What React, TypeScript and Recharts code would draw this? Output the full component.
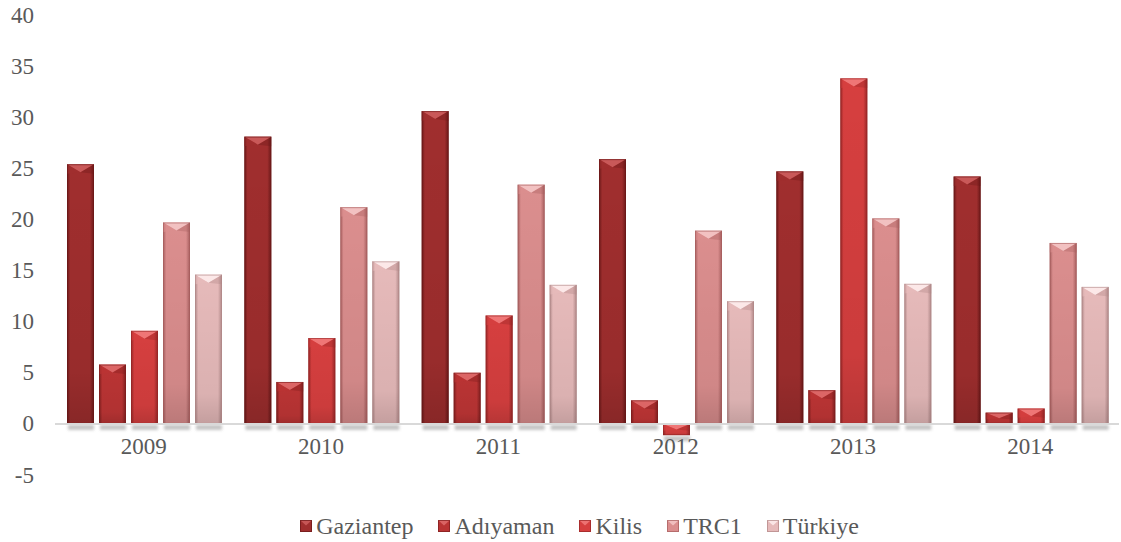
import React from "react";
import { BarChart, Bar, XAxis, YAxis, ReferenceLine } from "recharts";

const years = ["2009", "2010", "2011", "2012", "2013", "2014"];
const gaziantep = [25.4, 28.1, 30.6, 25.9, 24.7, 24.2];
const adiyaman = [5.8, 4.1, 5.0, 2.3, 3.3, 1.1];
const kilis = [9.1, 8.4, 10.6, -1.1, 33.8, 1.5];
const trc1 = [19.7, 21.2, 23.4, 18.9, 20.1, 17.7];
const turkiye = [14.6, 15.9, 13.6, 12.0, 13.7, 13.4];
const yTicks = [-5, 0, 5, 10, 15, 20, 25, 30, 35, 40];

const seriesDefs = [
  { key: "Gaziantep", values: gaziantep, mid: "#A02E2E", edge: "#6A1818", hi: "#D06060" },
  { key: "Adıyaman", values: adiyaman, mid: "#BA3434", edge: "#7E1E1E", hi: "#E27070" },
  { key: "Kilis", values: kilis, mid: "#D63F3F", edge: "#962626", hi: "#F38080" },
  { key: "TRC1", values: trc1, mid: "#DB8E8E", edge: "#A65E5E", hi: "#F6CACA" },
  { key: "Türkiye", values: turkiye, mid: "#E6BABA", edge: "#B08888", hi: "#FFF0F0" },
];

const data = years.map((y, i) => {
  const row: any = { year: y };
  seriesDefs.forEach((s) => (row[s.key] = s.values[i]));
  return row;
});

const FONT = "'Liberation Serif', 'Times New Roman', serif";
const TEXT = "#595959";

const makeShape = (idx: number) => (props: any) => {
  let { x, y, width, height } = props;
  if (height < 0) {
    y = y + height;
    height = -height;
  }
  if (!width || height === undefined) return null;
  const bev = Math.min(8, height / 2, width / 2);
  const s = seriesDefs[idx];
  return (
    <g>
      <rect
        x={x + 1}
        y={y + height + 1}
        width={width - 1}
        height={5}
        fill="#7a7a7a"
        opacity={0.45}
        filter="url(#blurShadow)"
      />
      <rect x={x} y={y} width={width} height={height} fill={`url(#grad${idx})`} />
      <rect x={x} y={y} width={width} height={height} fill="url(#vshade)" />
      {height > 2 && (
        <>
          <polygon
            points={`${x},${y} ${x + width},${y} ${x + width / 2},${y + bev}`}
            fill={s.hi}
            opacity={0.85}
          />
          <polygon
            points={`${x},${y} ${x + width / 2},${y + bev} ${x},${y + bev * 1.2}`}
            fill={s.mid}
            opacity={0.6}
          />
          <polygon
            points={`${x + width},${y} ${x + width / 2},${y + bev} ${x + width},${y + bev * 1.2}`}
            fill={s.edge}
            opacity={0.35}
          />
        </>
      )}
      <rect
        x={x + 0.5}
        y={y + 0.5}
        width={Math.max(0, width - 1)}
        height={Math.max(0, height - 1)}
        fill="none"
        stroke={s.edge}
        strokeOpacity={0.6}
        strokeWidth={1}
      />
    </g>
  );
};

const XTick = (props: any) => {
  const { x, payload } = props;
  return (
    <text x={x} y={446} textAnchor="middle" dominantBaseline="central" fontFamily={FONT} fontSize={23} fill={TEXT}>
      {payload.value}
    </text>
  );
};

const YTick = (props: any) => {
  const { y, payload } = props;
  return (
    <text x={34} y={y} textAnchor="end" dominantBaseline="central" fontFamily={FONT} fontSize={23} fill={TEXT}>
      {payload.value}
    </text>
  );
};

const LegendSwatch = ({ idx }: { idx: number }) => {
  const s = seriesDefs[idx];
  return (
    <svg width={12} height={12} style={{ marginRight: 4, display: "block" }}>
      <rect x={0} y={0} width={12} height={12} fill={s.mid} />
      <polygon points="0,0 12,0 6,5.5" fill={s.hi} opacity={0.8} />
      <rect x={0.5} y={0.5} width={11} height={11} fill="none" stroke={s.edge} strokeOpacity={0.7} />
    </svg>
  );
};

const Legend2 = () => (
  <div
    style={{
      position: "absolute",
      left: 0,
      top: 510,
      width: 1121,
      height: 32,
      display: "flex",
      justifyContent: "center",
      alignItems: "center",
      fontFamily: FONT,
      fontSize: 24,
      lineHeight: "32px",
      color: TEXT,
      paddingLeft: 38,
      boxSizing: "border-box",
    }}
  >
    {seriesDefs.map((s, i) => (
      <div key={s.key} style={{ display: "flex", alignItems: "center", marginRight: i < 4 ? 25 : 0 }}>
        <LegendSwatch idx={i} />
        <span>{s.key}</span>
      </div>
    ))}
  </div>
);

export default function App() {
  return (
    <div style={{ position: "absolute", left: 0, top: 0, width: 1121, height: 542, background: "#fff" }}>
      <BarChart
        width={1121}
        height={542}
        data={data}
        margin={{ top: 15, right: 2, left: 0, bottom: 37 }}
        barCategoryGap={12}
        barGap={5}
      >
        <defs>
          {seriesDefs.map((s, i) => (
            <linearGradient key={i} id={`grad${i}`} x1="0" y1="0" x2="1" y2="0">
              <stop offset="0%" stopColor={s.edge} />
              <stop offset="12%" stopColor={s.mid} />
              <stop offset="50%" stopColor={s.mid} />
              <stop offset="85%" stopColor={s.mid} />
              <stop offset="100%" stopColor={s.edge} />
            </linearGradient>
          ))}
          <linearGradient id="vshade" x1="0" y1="0" x2="0" y2="1">
            <stop offset="0%" stopColor="#000" stopOpacity={0} />
            <stop offset="80%" stopColor="#000" stopOpacity={0.05} />
            <stop offset="100%" stopColor="#000" stopOpacity={0.15} />
          </linearGradient>
          <filter id="blurShadow" x="-20%" y="-200%" width="140%" height="500%">
            <feGaussianBlur stdDeviation="1.5" />
          </filter>
        </defs>
        <YAxis
          width={55}
          domain={[-5, 40]}
          ticks={yTicks}
          interval={0}
          axisLine={false}
          tickLine={false}
          tickSize={0}
          tick={<YTick />}
        />
        <XAxis
          dataKey="year"
          height={30}
          axisLine={false}
          tickLine={false}
          tickSize={0}
          tick={<XTick />}
          interval={0}
        />
        <ReferenceLine y={0} stroke="#d9d9d9" strokeWidth={2} />
        {seriesDefs.map((s, i) => (
          <Bar key={s.key} dataKey={s.key} fill={s.mid} shape={makeShape(i)} isAnimationActive={false} />
        ))}
      </BarChart>
      <Legend2 />
    </div>
  );
}
